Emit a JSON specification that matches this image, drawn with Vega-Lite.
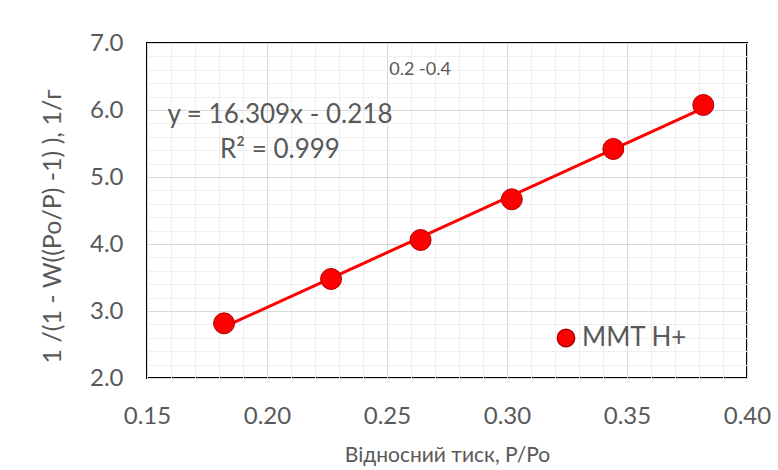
{
  "$schema": "https://vega.github.io/schema/vega-lite/v6.json",
  "width": 600,
  "height": 335,
  "autosize": {"type": "none"},
  "padding": {"left": 147, "top": 43, "right": 31, "bottom": 92},
  "background": "white",
  "config": {
    "view": {"stroke": "#000000", "strokeWidth": 2},
    "font": "Lato",
    "axis": {"labelColor": "#595959", "titleColor": "#595959", "labelFont": "Lato", "titleFont": "Lato", "titleFontWeight": "normal", "labelFlush": false}
  },
  "datasets": {
    "pts": [
      {"p": 0.1821, "v": 2.816, "series": "MMT H+"},
      {"p": 0.2267, "v": 3.478, "series": "MMT H+"},
      {"p": 0.2640, "v": 4.060, "series": "MMT H+"},
      {"p": 0.3020, "v": 4.667, "series": "MMT H+"},
      {"p": 0.3443, "v": 5.418, "series": "MMT H+"},
      {"p": 0.3818, "v": 6.075, "series": "MMT H+"}
    ],
    "eq": [{"p": 0.2054, "v": 5.93, "label": "y = 16.309x - 0.218"}],
    "r2": [{"p": 0.2054, "v": 5.40, "label": "R² = 0.999"}],
    "rng": [{"p": 0.2638, "v": 6.6, "label": "0.2 -0.4"}]
  },
  "layer": [
    {
      "data": {"name": "pts"},
      "mark": {"type": "point", "opacity": 0},
      "encoding": {
        "x": {"field": "p", "type": "quantitative", "scale": {"domain": [0.15, 0.4], "nice": false, "zero": false},
          "axis": {"orient": "bottom", "values": [0.15,0.16,0.17,0.18,0.19,0.2,0.21,0.22,0.23,0.24,0.25,0.26,0.27,0.28,0.29,0.3,0.31,0.32,0.33,0.34,0.35,0.36,0.37,0.38,0.39,0.4], "grid": true, "gridColor": "#efefef", "gridWidth": 1, "labels": false, "ticks": false, "domain": false, "title": null}},
        "y": {"field": "v", "type": "quantitative", "scale": {"domain": [2, 7], "nice": false, "zero": false},
          "axis": {"orient": "left", "values": [2,2.2,2.4,2.6,2.8,3,3.2,3.4,3.6,3.8,4,4.2,4.4,4.6,4.8,5,5.2,5.4,5.6,5.8,6,6.2,6.4,6.6,6.8,7], "grid": true, "gridColor": "#efefef", "gridWidth": 1, "labels": false, "ticks": false, "domain": false, "title": null}}
      }
    },
    {
      "data": {"name": "pts"},
      "mark": {"type": "point", "opacity": 0},
      "encoding": {
        "x": {"field": "p", "type": "quantitative", "scale": {"domain": [0.15, 0.4], "nice": false, "zero": false},
          "axis": {"orient": "bottom", "values": [0.15,0.2,0.25,0.3,0.35,0.4], "format": ".2f", "grid": true, "gridColor": "#d9d9d9", "gridWidth": 1, "ticks": false, "domain": false, "labelFontSize": 24, "labelPadding": 26, "title": "Відносний тиск, P/Po", "titleFontSize": 21, "titlePadding": 16}},
        "y": {"field": "v", "type": "quantitative", "scale": {"domain": [2, 7], "nice": false, "zero": false},
          "axis": {"orient": "left", "values": [2,3,4,5,6,7], "format": ".1f", "grid": true, "gridColor": "#d9d9d9", "gridWidth": 1, "ticks": false, "domain": false, "labelFontSize": 24, "labelPadding": 24, "title": "1 /(1 - W((Po/P) -1) ), 1/г", "titleFontSize": 25, "titlePadding": 24, "titleY": 183}}
      }
    },
    {
      "data": {"name": "pts"},
      "transform": [{"regression": "v", "on": "p"}],
      "mark": {"type": "line", "color": "#ff0000", "strokeWidth": 3},
      "encoding": {
        "x": {"field": "p", "type": "quantitative", "axis": null},
        "y": {"field": "v", "type": "quantitative", "axis": null}
      }
    },
    {
      "data": {"name": "pts"},
      "mark": {"type": "circle", "opacity": 1, "size": 440, "stroke": "#b00000", "strokeWidth": 1},
      "encoding": {
        "x": {"field": "p", "type": "quantitative", "axis": null},
        "y": {"field": "v", "type": "quantitative", "axis": null},
        "color": {"field": "series", "type": "nominal", "scale": {"range": ["#ff0000"]},
          "legend": {"orient": "none", "legendX": 406, "legendY": 282, "title": null, "labelFontSize": 26, "labelColor": "#595959", "labelFont": "Lato", "symbolSize": 300, "symbolStrokeColor": "#b00000", "labelOffset": 3}}
      }
    },
    {
      "data": {"name": "eq"},
      "mark": {"type": "text", "fontSize": 26, "color": "#595959", "font": "Lato"},
      "encoding": {
        "x": {"field": "p", "type": "quantitative", "axis": null},
        "y": {"field": "v", "type": "quantitative", "axis": null},
        "text": {"field": "label"}
      }
    },
    {
      "data": {"name": "r2"},
      "mark": {"type": "text", "fontSize": 26, "color": "#595959", "font": "Lato"},
      "encoding": {
        "x": {"field": "p", "type": "quantitative", "axis": null},
        "y": {"field": "v", "type": "quantitative", "axis": null},
        "text": {"field": "label"}
      }
    },
    {
      "data": {"name": "rng"},
      "mark": {"type": "text", "fontSize": 18, "color": "#595959", "font": "Lato"},
      "encoding": {
        "x": {"field": "p", "type": "quantitative", "axis": null},
        "y": {"field": "v", "type": "quantitative", "axis": null},
        "text": {"field": "label"}
      }
    }
  ],
  "resolve": {"axis": {"x": "independent", "y": "independent"}}
}
